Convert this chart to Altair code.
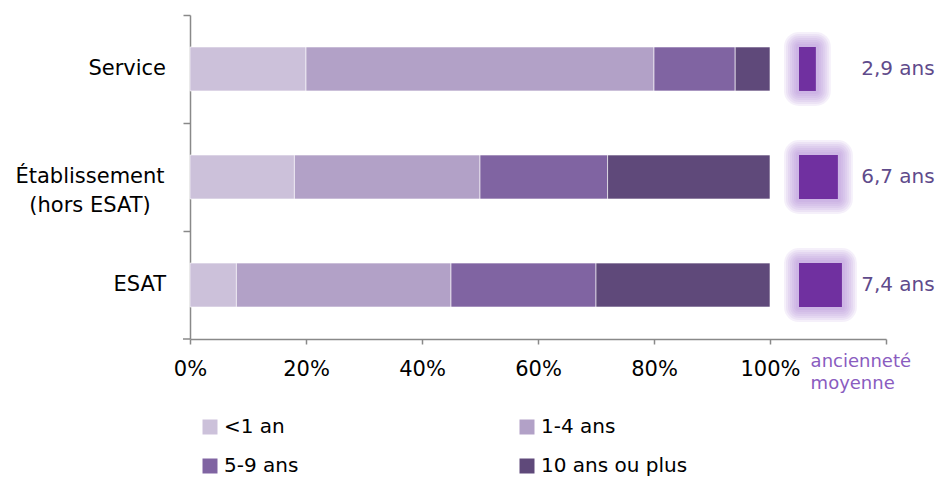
import altair as alt
import pandas as pd

categories = ["Service", "Établissement (hors ESAT)", "ESAT"]
cat_lines = [["Service"], ["Établissement", "(hors ESAT)"], ["ESAT"]]
segments = ["<1 an", "1-4 ans", "5-9 ans", "10 ans ou plus"]
seg_colors = ["#CCC1DA", "#B2A1C7", "#8064A2", "#5F497A"]
lt1 = [20, 18, 8]
a1_4 = [60, 32, 37]
a5_9 = [14, 22, 25]
a10p = [6, 28, 30]
years = [2.9, 6.7, 7.4]

FONT = "DejaVu Sans"

rows = []
for i, c in enumerate(categories):
    for j, (s, vals) in enumerate(zip(segments, [lt1, a1_4, a5_9, a10p])):
        rows.append({"cat": c, "seg": s, "idx": j, "value": vals[i]})
df = pd.DataFrame(rows)
df2 = pd.DataFrame({"cat": categories, "years": years})
df3 = pd.DataFrame({"cat": categories, "lines": cat_lines,
                    "multi": [len(l) > 1 for l in cat_lines]})

ysort = categories
yscale = alt.Scale(paddingInner=0.593, paddingOuter=0.296)

bars = alt.Chart(df).mark_bar(stroke="white", strokeWidth=0.6).encode(
    y=alt.Y("cat:N", sort=ysort, scale=yscale, title=None,
            axis=alt.Axis(domainColor="#898989", domainWidth=1.5,
                          tickColor="#898989", tickWidth=1.5, tickSize=7,
                          tickOffset=-54, labels=False)),
    x=alt.X("value:Q", stack="zero", title=None,
            scale=alt.Scale(domain=[0, 120], nice=False),
            axis=alt.Axis(values=[0, 20, 40, 60, 80, 100, 120], grid=False,
                          domainColor="#898989", domainWidth=1.5,
                          tickColor="#898989", tickWidth=1.5, tickSize=5,
                          labelExpr="datum.value <= 100 ? datum.value + '%' : ''",
                          labelFontSize=21, labelColor="black", labelFont=FONT,
                          labelPadding=14, labelFlush=False, labelOverlap=False)),
    color=alt.Color("seg:N", scale=alt.Scale(domain=segments, range=seg_colors),
                    legend=alt.Legend(title=None, orient="none", legendX=10, legendY=402,
                                      columns=2, direction="horizontal",
                                      symbolType="square", symbolSize=225,
                                      symbolStrokeWidth=0, labelFontSize=20,
                                      labelFont=FONT, labelColor="black",
                                      columnPadding=218, rowPadding=19, labelOffset=4,
                                      labelLimit=0)),
    order=alt.Order("idx:Q"),
)

# small closing tick at the bottom of the category axis
corner = alt.Chart(pd.DataFrame({"t": [0]})).mark_rule(
    color="#898989", strokeWidth=1.5
).encode(x=alt.value(-7), x2=alt.value(0), y=alt.value(324))

# category labels (single-line right aligned, two-line block centred)
cat_single = alt.Chart(df3).transform_filter("!datum.multi").mark_text(
    align="right", baseline="middle", fontSize=21, font=FONT, color="black"
).encode(y=alt.Y("cat:N", sort=ysort, title=None), x=alt.value(-24), text="lines:N")

cat_multi = alt.Chart(df3).transform_filter("datum.multi").mark_text(
    align="center", baseline="middle", fontSize=21, font=FONT, color="black",
    lineHeight=29
).encode(y=alt.Y("cat:N", sort=ysort, title=None), x=alt.value(-100), text="lines")

sq_base = alt.Chart(df2).transform_calculate(
    x0="105", x1="105 + datum.years"
)

def glow(width, opacity):
    return sq_base.mark_bar(color="#b38ddb", stroke="#b38ddb", strokeWidth=width,
                            strokeOpacity=opacity, fillOpacity=opacity,
                            strokeJoin="round").encode(
        y=alt.Y("cat:N", sort=ysort, title=None),
        x=alt.X("x0:Q", title=None), x2="x1:Q")

core = sq_base.mark_bar(color="#7030A0").encode(
    y=alt.Y("cat:N", sort=ysort, title=None),
    x=alt.X("x0:Q", title=None), x2="x1:Q")

labels = alt.Chart(df2).transform_calculate(
    lab="replace(format(datum.years, '.1f'), '.', ',') + ' ans'"
).mark_text(align="right", baseline="middle", fontSize=20, font=FONT,
            color="#5f4b8b").encode(
    y=alt.Y("cat:N", sort=ysort, title=None),
    x=alt.datum(128.4),
    text="lab:N")

anc = alt.Chart(pd.DataFrame({"t": [0]})).mark_text(
    text=["ancienneté", "moyenne"], align="left", baseline="alphabetic",
    fontSize=18, font=FONT, color="#8a5cbf", lineHeight=22).encode(
    x=alt.datum(107), y=alt.value(352))

glows = [glow(w, 0.13) for w in [30, 26, 22, 18, 14, 10, 6]]

chart = alt.layer(
    bars, corner, cat_single, cat_multi, *glows, core, labels, anc
).properties(
    width=696, height=324,
    autosize=alt.AutoSizeParams(type="none"),
    padding={"left": 190, "top": 15, "right": 64, "bottom": 138},
).configure(font=FONT).configure_view(strokeWidth=0, stroke=None)

chart.save("out.html", embed_options={"renderer": "svg", "actions": False})
